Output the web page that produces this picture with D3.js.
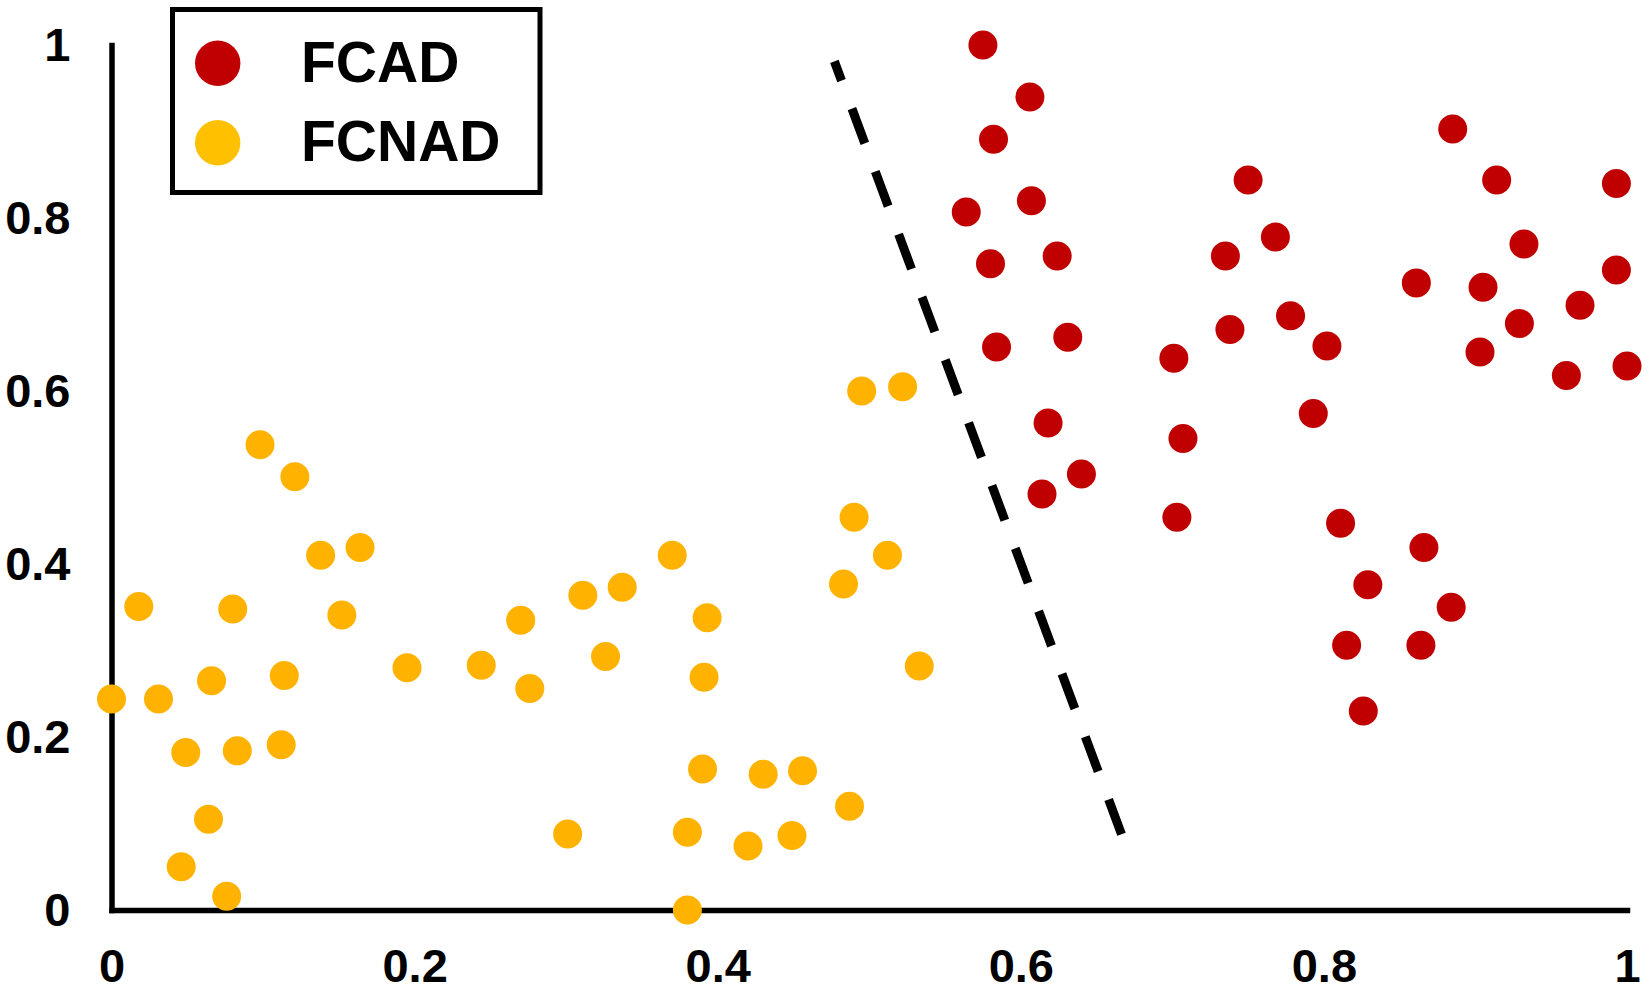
<!DOCTYPE html>
<html>
<head>
<meta charset="utf-8">
<script src="https://cdn.jsdelivr.net/npm/d3@7"></script>
<style>
  body { margin: 0; background: #fff; }
  text { font-family: "Liberation Sans", Arial, sans-serif; font-weight: bold; }
</style>
</head>
<body>
<svg id="chart"></svg>
<script>
// Dữ liệu: hai nhóm điểm (đã chuẩn hoá 0..1)
const seriesNames = ["FCAD", "FCNAD"];
const seriesColors = ["#C00000", "#FFB300"];

const fcadX = [0.575, 0.606, 0.582, 0.564, 0.607, 0.580, 0.624, 0.584, 0.631, 0.618,
  0.614, 0.640, 0.701, 0.707, 0.703, 0.735, 0.750, 0.768, 0.738, 0.778,
  0.802, 0.793, 0.811, 0.829, 0.815, 0.826, 0.866, 0.884, 0.864, 0.861,
  0.885, 0.914, 0.932, 0.905, 0.929, 0.903, 0.969, 0.960, 0.993, 0.993, 1.000];
const fcadY = [1.000, 0.940, 0.891, 0.807, 0.820, 0.747, 0.756, 0.651, 0.662, 0.563,
  0.481, 0.504, 0.638, 0.545, 0.454, 0.756, 0.844, 0.778, 0.671, 0.687,
  0.652, 0.574, 0.447, 0.376, 0.306, 0.230, 0.419, 0.350, 0.306, 0.725,
  0.903, 0.844, 0.770, 0.720, 0.678, 0.645, 0.699, 0.618, 0.840, 0.740, 0.629];

const fcnadX = [0.098, 0.121, 0.138, 0.164, 0.018, 0.080, 0.152, 0.270, 0.311, 0.326,
  0.195, 0.244, 0.276, 0.000, 0.031, 0.066, 0.114, 0.049, 0.083, 0.112,
  0.064, 0.046, 0.076, 0.301, 0.495, 0.522, 0.490, 0.512, 0.483, 0.533,
  0.370, 0.337, 0.393, 0.391, 0.390, 0.430, 0.456, 0.487, 0.380, 0.420,
  0.449, 0.380];
const fcnadY = [0.538, 0.501, 0.410, 0.419, 0.351, 0.348, 0.341, 0.335, 0.364, 0.293,
  0.280, 0.283, 0.256, 0.244, 0.244, 0.265, 0.271, 0.182, 0.184, 0.191,
  0.105, 0.050, 0.016, 0.088, 0.600, 0.605, 0.454, 0.410, 0.377, 0.282,
  0.410, 0.373, 0.338, 0.269, 0.163, 0.157, 0.161, 0.120, 0.090, 0.074,
  0.086, 0.000];

// Đường phân cách (nét đứt)
const dividerX = [0.477, 0.667];
const dividerY = [0.981, 0.085];

// Nhãn trục
const tickValues = [0, 0.2, 0.4, 0.6, 0.8, 1];
const tickLabels = ["0", "0.2", "0.4", "0.6", "0.8", "1"];

const width = 1650;
const height = 991;
const margin = { top: 45, right: 23, bottom: 81, left: 111.5 };

const svg = d3.select("#chart")
    .attr("width", width)
    .attr("height", height);

const x = d3.scaleLinear()
    .domain([0, 1])
    .range([margin.left, width - margin.right]);

const y = d3.scaleLinear()
    .domain([0, 1])
    .range([height - margin.bottom, margin.top]);

const fmt = d => tickLabels[tickValues.indexOf(d)];

// Trục X
const gx = svg.append("g")
    .attr("transform", `translate(0,${y(0)})`)
    .call(d3.axisBottom(x).tickValues(tickValues).tickFormat(fmt)
        .tickSize(0).tickSizeOuter(0).tickPadding(38.5));

// Trục Y
const gy = svg.append("g")
    .attr("transform", `translate(${x(0)},0)`)
    .call(d3.axisLeft(y).tickValues(tickValues).tickFormat(fmt)
        .tickSize(0).tickSizeOuter(0).tickPadding(41));

[gx, gy].forEach(g => {
    g.select(".domain").attr("stroke", "#000").attr("stroke-width", 5.5).attr("stroke-linecap", "square");
    g.selectAll("text")
        .attr("fill", "#000")
        .style("font-size", "47px")
        .style("font-family", "'Liberation Sans', Arial, sans-serif")
        .style("font-weight", "bold");
});

// Đường nét đứt
svg.append("line")
    .attr("x1", x(dividerX[0])).attr("y1", y(dividerY[0]))
    .attr("x2", x(dividerX[1])).attr("y2", y(dividerY[1]))
    .attr("stroke", "#000")
    .attr("stroke-width", 9)
    .attr("stroke-dasharray", "37 30")
    .attr("stroke-dashoffset", 16.6);

// Vẽ điểm
const fcad = fcadX.map((v, i) => ({ x: v, y: fcadY[i] }));
const fcnad = fcnadX.map((v, i) => ({ x: v, y: fcnadY[i] }));

svg.append("g").selectAll("circle")
    .data(fcnad)
    .enter()
    .append("circle")
    .attr("cx", d => x(d.x))
    .attr("cy", d => y(d.y))
    .attr("r", 14.5)
    .attr("fill", seriesColors[1]);

svg.append("g").selectAll("circle")
    .data(fcad)
    .enter()
    .append("circle")
    .attr("cx", d => x(d.x))
    .attr("cy", d => y(d.y))
    .attr("r", 14.5)
    .attr("fill", seriesColors[0]);

// Chú thích (Legend)
const legend = svg.append("g");
legend.append("rect")
    .attr("x", 172.5).attr("y", 9.5)
    .attr("width", 367.5).attr("height", 183)
    .attr("fill", "#fff")
    .attr("stroke", "#000")
    .attr("stroke-width", 5);

seriesNames.forEach((name, i) => {
    legend.append("circle")
        .attr("cx", 217.7)
        .attr("cy", 63.3 + i * 79.4)
        .attr("r", 22.7)
        .attr("fill", i === 0 ? seriesColors[0] : "#FFC000");
    legend.append("text")
        .attr("x", 301)
        .attr("y", 82 + i * 79)
        .style("font-size", "57px")
        .attr("fill", "#000")
        .text(name);
});
</script>
</body>
</html>
